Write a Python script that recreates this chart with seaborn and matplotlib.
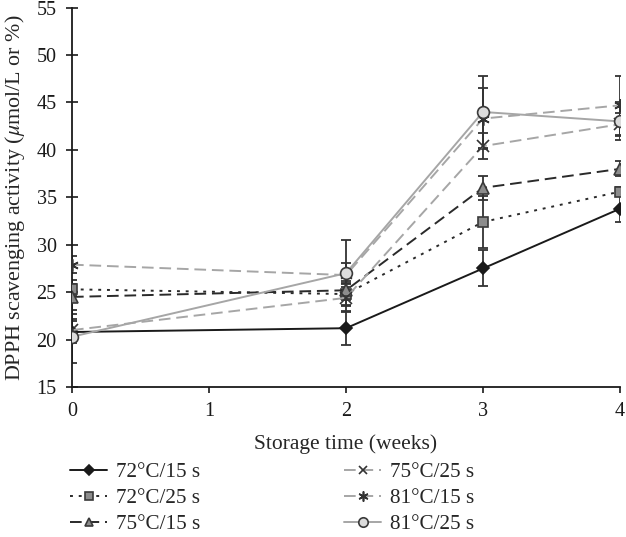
import matplotlib
matplotlib.use("Agg")
import matplotlib.pyplot as plt
import seaborn as sns
import pandas as pd
import numpy as np

weeks = [0, 2, 3, 4]
labels = ["72°C/15 s", "72°C/25 s", "75°C/15 s", "75°C/25 s", "81°C/15 s", "81°C/25 s"]
v_72_15 = [20.8, 21.2, 27.5, 33.8]
v_72_25 = [25.3, 24.8, 32.4, 35.6]
v_75_15 = [24.5, 25.2, 36.0, 38.0]
v_75_25 = [21.0, 24.4, 40.4, 42.7]
v_81_15 = [27.9, 26.8, 43.3, 44.7]
v_81_25 = [20.3, 27.0, 44.0, 43.0]
e_72_15 = [1.2, 1.8, 1.9, 1.4]
e_72_25 = [0.6, 1.2, 2.7, 0.5]
e_75_15 = [1.8, 1.0, 1.3, 0.8]
e_75_25 = [1.2, 1.5, 1.4, 1.2]
e_81_15 = [0.9, 1.3, 3.2, 3.1]
e_81_25 = [2.8, 3.5, 3.8, 2.0]

values = [v_72_15, v_72_25, v_75_15, v_75_25, v_81_15, v_81_25]
errors = [e_72_15, e_72_25, e_75_15, e_75_25, e_81_15, e_81_25]

rows = []
for lab, vals, errs in zip(labels, values, errors):
    for w, v, e in zip(weeks, vals, errs):
        rows.append({"week": w, "value": v, "err": e, "series": lab})
df = pd.DataFrame(rows)

sns.set_style("ticks")
plt.rcParams["font.family"] = ["Liberation Serif", "DejaVu Serif"]
plt.rcParams["mathtext.fontset"] = "stix"

styles = [
    dict(color="#1a1a1a", ls="-", marker="D", mfc="#1a1a1a", mec="#1a1a1a", ms=6.5),
    dict(color="#2a2a2a", ls=(0, (1.5, 3)), marker="s", mfc="#8c8c8c", mec="#3a3a3a", ms=7),
    dict(color="#2a2a2a", ls=(0, (6, 3)), marker="^", mfc="#8c8c8c", mec="#3a3a3a", ms=8),
    dict(color="#a6a6a6", ls=(0, (6, 3)), marker="x", mfc="none", mec="#333333", ms=8),
    dict(color="#a6a6a6", ls=(0, (6, 3)), marker=(6, 2, 0), mfc="none", mec="#333333", ms=9),
    dict(color="#a6a6a6", ls="-", marker="o", mfc="#dcdcdc", mec="#3a3a3a", ms=8.5),
]

fig = plt.figure(figsize=(6.26, 5.37), dpi=100)
ax = fig.add_axes([0.115, 0.2793, 0.8754, 0.7065])

for lab, st in zip(labels, styles):
    sub = df[df["series"] == lab]
    ax.errorbar(sub["week"], sub["value"], yerr=sub["err"], fmt="none",
                ecolor="#333333", elinewidth=1.3, capsize=3.5, capthick=1.3, zorder=2)

for lab, st in zip(labels, styles):
    sub = df[df["series"] == lab]
    sns.lineplot(data=sub, x="week", y="value", ax=ax, label=lab,
                 color=st["color"], linestyle=st["ls"], linewidth=1.4,
                 marker=st["marker"], markerfacecolor=st["mfc"],
                 markeredgecolor=st["mec"], markersize=st["ms"],
                 markeredgewidth=1.2, zorder=3)

ax.set_xlim(0, 4)
ax.set_ylim(15, 55)
ax.set_xticks([0, 1, 2, 3, 4])
ax.set_yticks(np.arange(15, 56, 5))
ax.tick_params(labelsize=14.5, width=1.2, colors="#1a1a1a")
ax.tick_params(axis="y", direction="inout", length=8, pad=7)
ax.tick_params(axis="x", direction="out", length=4, pad=7)
for s in ["left", "bottom"]:
    ax.spines[s].set_linewidth(1.3)
    ax.spines[s].set_color("#1a1a1a")
sns.despine(ax=ax)
ax.set_xlabel("Storage time (weeks)", fontsize=15.5, labelpad=9)
ax.set_ylabel(r"DPPH scavenging activity ($\mu$mol/L or %)", fontsize=15.8, labelpad=7)

handles, labs = ax.get_legend_handles_labels()
ax.get_legend().remove()
fig.legend(handles, labs, ncol=2, loc="upper left", bbox_to_anchor=(0.099, 0.155),
           frameon=False, fontsize=15.2, handlelength=1.75, handletextpad=0.43,
           markerscale=0.8, columnspacing=6.8, labelspacing=0.3, borderaxespad=0)

fig.savefig("out.png", dpi=100)
